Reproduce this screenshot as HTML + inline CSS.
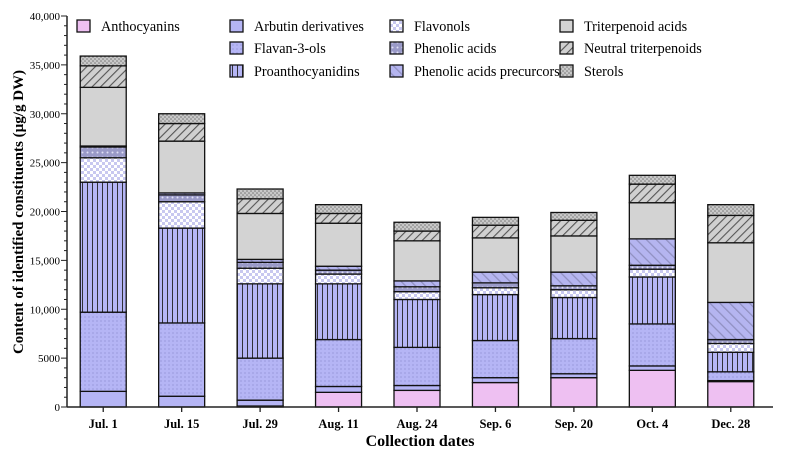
<!DOCTYPE html>
<html><head><meta charset="utf-8"><style>
body{margin:0;background:#fff}
svg text{font-family:"Liberation Serif",serif}
</style></head><body>
<svg width="797" height="461" viewBox="0 0 797 461">
<defs>
<pattern id="p-dots" width="4" height="4" patternUnits="userSpaceOnUse"><rect width="4" height="4" fill="#b5b5f5"/><circle cx="1" cy="1" r="0.6" fill="#8888cc"/></pattern>
<pattern id="p-vert" width="5" height="5" patternUnits="userSpaceOnUse"><rect width="5" height="5" fill="#b5b5f5"/><line x1="2.5" y1="0" x2="2.5" y2="5" stroke="#222" stroke-width="0.9"/></pattern>
<pattern id="p-check" width="6" height="6" patternUnits="userSpaceOnUse"><rect width="6" height="6" fill="#fff"/><rect width="3" height="3" fill="#c8c8f0"/><rect x="3" y="3" width="3" height="3" fill="#c8c8f0"/></pattern>
<pattern id="p-phen" width="5" height="5" patternUnits="userSpaceOnUse"><rect width="5" height="5" fill="#9a9ac8"/><circle cx="2.5" cy="2.5" r="1" fill="#e0e0f5"/></pattern>
<pattern id="p-diagb" width="7" height="7" patternUnits="userSpaceOnUse" patternTransform="rotate(-45)"><rect width="7" height="7" fill="#b5b5f0"/><line x1="0" y1="0" x2="0" y2="7" stroke="#9090c0" stroke-width="2.5"/></pattern>
<pattern id="p-diagg" width="6" height="6" patternUnits="userSpaceOnUse" patternTransform="rotate(45)"><rect width="6" height="6" fill="#d0d0d0"/><line x1="0" y1="0" x2="0" y2="6" stroke="#555" stroke-width="2.2"/></pattern>
<pattern id="p-ster" width="4" height="4" patternUnits="userSpaceOnUse"><rect width="4" height="4" fill="#c8c8c8"/><circle cx="1" cy="1" r="0.8" fill="#777"/><circle cx="3" cy="3" r="0.8" fill="#777"/></pattern>
</defs>
<g id="plot"></g>
<text x="420" y="446" text-anchor="middle" font-weight="bold" font-size="16">Collection dates</text>
<text transform="translate(23,212) rotate(-90)" text-anchor="middle" font-weight="bold" font-size="15">Content of identified constituents (µg/g DW)</text>
</svg>
<script>
const categories=["Jul. 1","Jul. 15","Jul. 29","Aug. 11","Aug. 24","Sep. 6","Sep. 20","Oct. 4","Dec. 28"];
const seriesNames=["Anthocyanins","Arbutin derivatives","Flavan-3-ols","Proanthocyanidins","Flavonols","Phenolic acids","Phenolic acids precurcors","Triterpenoid acids","Neutral triterpenoids","Sterols"];
const anthocyanins=[0,0,100,1500,1700,2500,3000,3750,2600];
const arbutin=[1600,1100,600,600,500,500,400,450,100];
const flavan=[8100,7500,4300,4800,3900,3800,3600,4300,900];
const proantho=[13300,9700,7600,5700,4900,4700,4200,4800,2000];
const flavonols=[2500,2700,1600,1000,800,700,800,800,900];
const phenolic=[1100,700,600,400,500,500,400,400,400];
const precursors=[100,200,300,400,600,1100,1400,2700,3800];
const triterpAcids=[6000,5300,4700,4400,4100,3500,3700,3700,6100];
const neutralTriterp=[2200,1800,1500,1000,1000,1300,1600,1900,2800];
const sterols=[1000,1000,1000,900,900,800,800,900,1100];
const yTicks=[0,5000,10000,15000,20000,25000,30000,35000,40000];
const yTickLabels=["0","5000","10,000","15,000","20,000","25,000","30,000","35,000","40,000"];
const series=[anthocyanins,arbutin,flavan,proantho,flavonols,phenolic,precursors,triterpAcids,neutralTriterp,sterols];
const fills=["#eec0f2","#b5b5f5","url(#p-dots)","url(#p-vert)","url(#p-check)","url(#p-phen)","url(#p-diagb)","#d3d3d3","url(#p-diagg)","url(#p-ster)"];
const NS="http://www.w3.org/2000/svg";
const g=document.getElementById('plot');
const x0=67,x1=773,y0=407,yTop=16,yMax=40000;
const y=v=>y0-(v/yMax)*(y0-yTop);
const band=(x1-x0)/categories.length;
const xc=i=>x0+band*(i+0.5)-3;
const bw=46;
function mk(t,a){const e=document.createElementNS(NS,t);for(const k in a)e.setAttribute(k,a[k]);g.appendChild(e);return e;}
categories.forEach((c,i)=>{
 let cum=0;
 series.forEach((s,j)=>{
  const v=s[i];const r=mk('rect',{x:xc(i)-bw/2,y:y(cum+v),width:bw,height:y(cum)-y(cum+v),fill:fills[j],stroke:'#111','stroke-width':1.3});
  
  
  cum+=v;
 });
 const t=mk('line',{x1:xc(i),x2:xc(i),y1:y0,y2:y0+5,stroke:'#222','stroke-width':1.3});
 
 
 const l=mk('text',{x:xc(i),y:y0+21,'text-anchor':'middle','font-size':12.5,'font-weight':'bold'});
 l.textContent=c;
 
 
});
const ax=mk('line',{x1:x0,x2:x0,y1:yTop,y2:y0,stroke:'#222','stroke-width':1.5});


const axx=mk('line',{x1:x0,x2:x1,y1:y0,y2:y0,stroke:'#222','stroke-width':1.5});


for(let v=0;v<=yMax;v+=1000){const mt=mk('line',{x1:x0-(v%5000?3:6),x2:x0,y1:y(v),y2:y(v),stroke:'#222','stroke-width':1});
 
 }
yTicks.forEach((v,i)=>{const t=mk('text',{x:x0-7,y:y(v)+4,'text-anchor':'end','font-size':11});t.textContent=yTickLabels[i];
 
 });
const legendPos=[[77,27],[230,27],[230,49],[230,72],[390,27],[390,49],[390,72],[560,27],[560,49],[560,72]];
seriesNames.forEach((n,j)=>{const [lx,ly]=legendPos[j];
 const b=mk('rect',{x:lx,y:ly-7,width:13,height:12,fill:fills[j],stroke:'#111','stroke-width':1.3});
 
 
 const t=mk('text',{x:lx+24,y:ly+4,'font-size':14.2});t.textContent=n;
 
 });
</script>
</body></html>
